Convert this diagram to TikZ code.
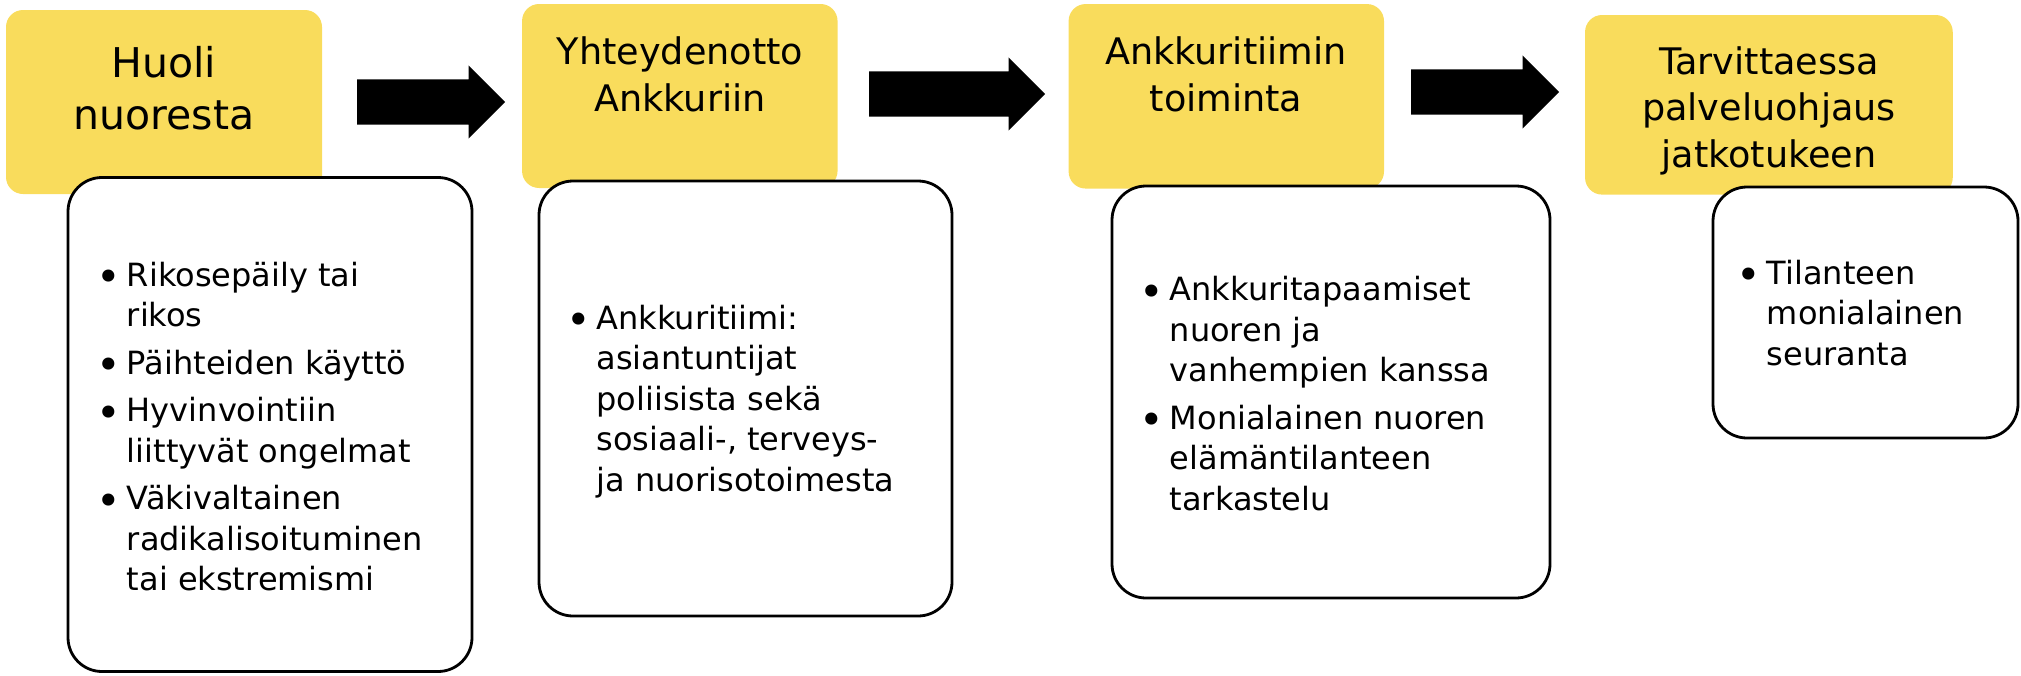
\documentclass[tikz,border=0pt]{standalone}
\usepackage{fontspec}
\setmainfont{DejaVu Sans}
\usetikzlibrary{shapes.arrows}
\definecolor{ankkuri}{HTML}{F9DC5C}
\newcommand{\bul}{\llap{\raisebox{-5.5pt}{\scalebox{1.3}{\textbullet}}\hspace{6pt}}}

\begin{document}
\begin{tikzpicture}[x=1pt, y=-1pt,
		vaihe/.style={fill=ankkuri, rounded corners=17pt, inner sep=0pt},
		sisalto/.style={draw, fill=white, line width=2.8pt, rounded corners=34pt, inner sep=0pt},
		otsikko/.style={align=center, inner sep=0pt, anchor=base, font=\fontsize{36.6}{46.3}\selectfont},
		lista/.style={align=left, inner sep=0pt, anchor=base west, font=\fontsize{32}{40.5}\selectfont},
		nuoli/.style={single arrow, fill=black, inner sep=0pt, inner ysep=22.5pt, single arrow head extend=14pt, single arrow tip angle=90, anchor=tail}]
		\useasboundingbox (0,0) rectangle (2021,675);

		\node[vaihe, minimum width=316pt, minimum height=184pt] (h1) at (164,102) {};
		\node[vaihe, minimum width=315.5pt, minimum height=184pt] (h2) at (679.8,96) {};
		\node[vaihe, minimum width=315.4pt, minimum height=184.5pt] (h3) at (1226.3,96.3) {};
		\node[vaihe, minimum width=367.7pt, minimum height=179.6pt] (h4) at (1768.9,104.8) {};

		\node[sisalto, minimum width=404pt, minimum height=494pt] (b1) at (270,424.5) {};
		\node[sisalto, minimum width=413pt, minimum height=435pt] (b2) at (745.5,398.5) {};
		\node[sisalto, minimum width=438pt, minimum height=412pt] (b3) at (1331,392) {};
		\node[sisalto, minimum width=305pt, minimum height=251pt] (b4) at (1865.5,312.5) {};

		\node[otsikko, font=\fontsize{41}{52}\selectfont] (t1) at (164,129) {Huoli\\nuoresta};
		\node[otsikko] (t2) at (680,111) {Yhteydenotto\\Ankkuriin};
		\node[otsikko] (t3) at (1226,111) {Ankkuritiimin\\toiminta};
		\node[otsikko] (t4) at (1769,167) {Tarvittaessa\\palveluohjaus\\jatkotukeen};

		\node[lista] (l1) at (126.7,590.6) {\bul Rikosepäily tai\\rikos\\[7pt]\bul Päihteiden käyttö\\[7pt]\bul Hyvinvointiin\\liittyvät ongelmat\\[7pt]\bul Väkivaltainen\\radikalisoituminen\\tai ekstremismi};
		\node[lista] (l2) at (596.4,491) {\bul Ankkuritiimi:\\asiantuntijat\\poliisista sekä\\sosiaali-, terveys-\\ja nuorisotoimesta};
		\node[lista] (l3) at (1169.6,510) {\bul Ankkuritapaamiset\\nuoren ja\\vanhempien kanssa\\[7pt]\bul Monialainen nuoren\\elämäntilanteen\\tarkastelu};
		\node[lista] (l4) at (1766.7,365) {\bul Tilanteen\\monialainen\\seuranta};

		\node[nuoli, minimum height=148pt] (a1) at (357,102) {};
		\node[nuoli, minimum height=176pt] (a2) at (869,94) {};
		\node[nuoli, minimum height=148pt] (a3) at (1411,92) {};
	\end{tikzpicture}
\end{document}
